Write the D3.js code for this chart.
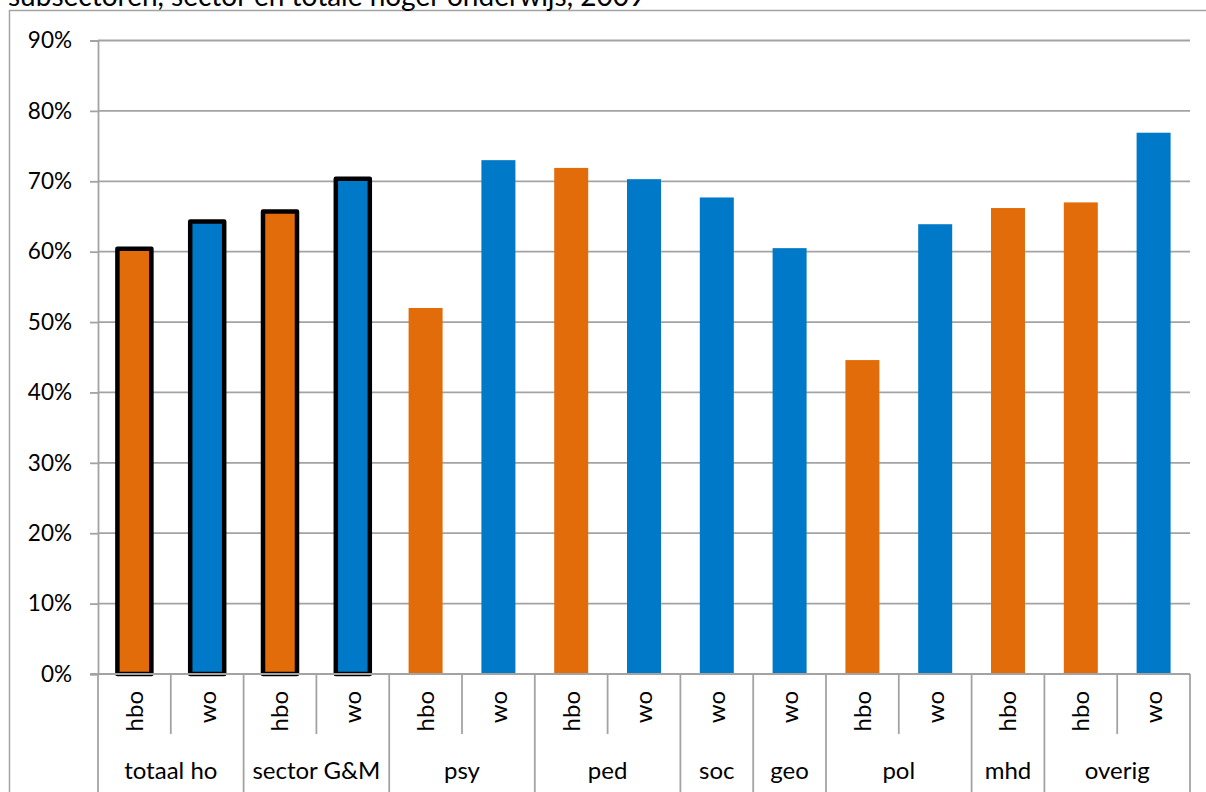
<!DOCTYPE html>
<html>
<head>
<meta charset="utf-8">
<script src="https://cdn.jsdelivr.net/npm/d3@7"></script>
<style>
  html, body { margin: 0; padding: 0; background: #fff; }
  svg { display: block; font-family: Lato, "Open Sans", sans-serif; }
</style>
</head>
<body>
<svg id="chart" width="1206" height="792"></svg>
<script>
// ---- data ----
const titleText = "subsectoren, sector en totale hoger onderwijs, 2009";
const groups = ["totaal ho","totaal ho","sector G&M","sector G&M","psy","psy","ped","ped","soc","geo","pol","pol","mhd","overig","overig"];
const types  = ["hbo","wo","hbo","wo","hbo","wo","hbo","wo","wo","wo","hbo","wo","hbo","hbo","wo"];
const values = [60.4, 64.3, 65.7, 70.35, 52.0, 73.0, 71.9, 70.3, 67.7, 60.5, 44.6, 63.9, 66.2, 67.0, 76.9];
const aggregateGroups = ["totaal ho", "sector G&M"];
const yTicks = [0, 10, 20, 30, 40, 50, 60, 70, 80, 90];

// ---- layout ----
const plotLeft = 98, plotRight = 1190, plotTop = 40.5, plotBottom = 674;
const colors = { hbo: "#E36C0A", wo: "#0079C8" };
const gridColor = "#A3A3A3";

const svg = d3.select("#chart");

// outer frame
svg.append("rect")
  .attr("x", 9.5).attr("y", 10.5)
  .attr("width", 1400).attr("height", 1000)
  .attr("fill", "none").attr("stroke", gridColor).attr("stroke-width", 1.5);

// title (second line, partly cut off as in the reference)
svg.append("text")
  .attr("x", 8).attr("y", 6)
  .attr("font-size", 28).attr("fill", "#000")
  .text(titleText);

const idx = d3.range(values.length);
const x = d3.scaleBand().domain(idx).range([plotLeft, plotRight])
  .paddingInner(0.533).paddingOuter(0.2665);
const step = x.step();
const y = d3.scaleLinear().domain([0, 90]).range([plotBottom, plotTop]);

// gridlines
svg.append("g").selectAll("line").data(yTicks.filter(d => d > 0)).join("line")
  .attr("x1", plotLeft).attr("x2", plotRight)
  .attr("y1", d => y(d)).attr("y2", d => y(d))
  .attr("stroke", gridColor).attr("stroke-width", 1.8);

// y axis
const yAxis = d3.axisLeft(y).tickValues(yTicks).tickFormat(d => d + "%")
  .tickSize(8).tickPadding(18);
const gy = svg.append("g").attr("transform", `translate(${plotLeft},0)`).call(yAxis);
gy.select(".domain").attr("stroke", gridColor).attr("stroke-width", 1.8);
gy.selectAll(".tick line").attr("stroke", gridColor).attr("stroke-width", 1.8);
gy.selectAll(".tick text").attr("font-size", 22.5).attr("fill", "#000")
  .attr("font-family", "Lato, 'Open Sans', sans-serif");

// bars
svg.append("g").selectAll("rect").data(idx).join("rect")
  .attr("x", i => x(i))
  .attr("y", i => y(values[i]))
  .attr("width", x.bandwidth())
  .attr("height", i => y(0) - y(values[i]))
  .attr("fill", i => colors[types[i]])
  .attr("stroke", i => aggregateGroups.includes(groups[i]) ? "#000" : "none")
  .attr("stroke-width", 4.5)
  .attr("stroke-linejoin", "round");

// x axis baseline
svg.append("line")
  .attr("x1", plotLeft - 8).attr("x2", plotRight)
  .attr("y1", y(0)).attr("y2", y(0))
  .attr("stroke", gridColor).attr("stroke-width", 1.8);

// category separators
const bounds = d3.range(values.length + 1);
svg.append("g").selectAll("line").data(bounds).join("line")
  .attr("x1", b => plotLeft + b * step).attr("x2", b => plotLeft + b * step)
  .attr("y1", y(0))
  .attr("y2", b => {
    const isGroupEdge = b === 0 || b === values.length || groups[b] !== groups[b - 1];
    return isGroupEdge ? 792 : 734;
  })
  .attr("stroke", gridColor).attr("stroke-width", 1.8);

// rotated type labels
svg.append("g").selectAll("text").data(idx).join("text")
  .attr("transform", i => `translate(${x(i) + x.bandwidth() / 2},691) rotate(-90)`)
  .attr("text-anchor", "end")
  .attr("dy", "0.35em")
  .attr("font-size", 24).attr("fill", "#000")
  .text(i => types[i]);

// group labels
const groupNames = [...new Set(groups)];
const groupInfo = groupNames.map(g => {
  const members = idx.filter(i => groups[i] === g);
  const x0 = plotLeft + d3.min(members) * step;
  const x1 = plotLeft + (d3.max(members) + 1) * step;
  return { name: g, cx: (x0 + x1) / 2 };
});
svg.append("g").selectAll("text").data(groupInfo).join("text")
  .attr("x", d => d.cx).attr("y", 779)
  .attr("text-anchor", "middle")
  .attr("font-size", 24).attr("fill", "#000")
  .text(d => d.name);
</script>
</body>
</html>
